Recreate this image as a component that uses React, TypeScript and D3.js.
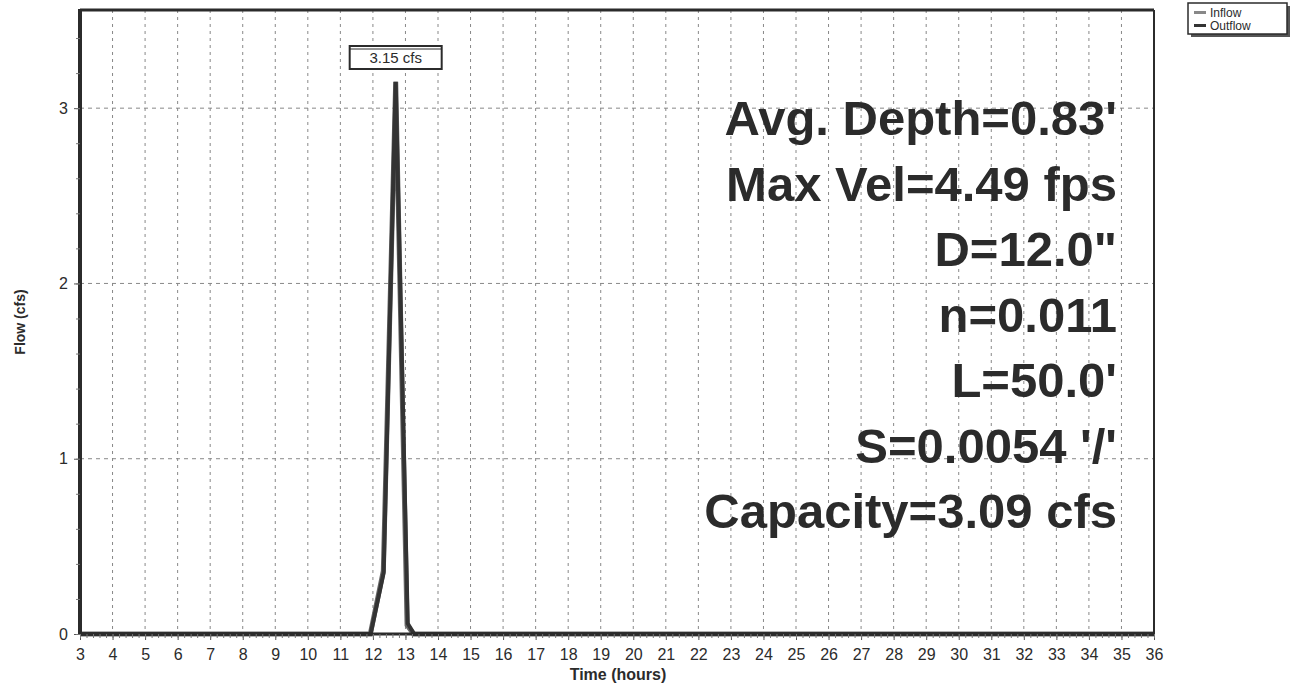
import React, { useEffect, useRef } from 'react';
import * as d3 from 'd3';

// hydrograph, time in hours, flow in cfs
const inflowTimes = [3, 11.92, 12.32, 12.7, 13.05, 13.25, 36];
const inflowValues = [0, 0, 0.36, 3.15, 0.05, 0, 0];
const outflowTimes = [3, 11.93, 12.33, 12.7, 13.07, 13.27, 36];
const outflowValues = [0, 0, 0.35, 3.15, 0.06, 0, 0];

const xTicks = d3.range(3, 37);
const yTicks = [0, 1, 2, 3];
const peakLabel = '3.15 cfs';
const infoLines = [
    "Avg. Depth=0.83'",
    'Max Vel=4.49 fps',
    'D=12.0"',
    'n=0.011',
    "L=50.0'",
    "S=0.0054 '/'",
    'Capacity=3.09 cfs'
];
const legendItems = ['Inflow', 'Outflow'];

const App = () => {
    const svgRef = useRef(null);

    useEffect(() => {
        document.body.style.margin = '0';
        const svg = d3.select(svgRef.current);
        svg.selectAll('*').remove();

        const margin = { top: 10, right: 137, bottom: 50, left: 80 };
        const W = 1291, H = 684;
        const width = W - margin.left - margin.right;
        const height = H - margin.top - margin.bottom;
        const font = 'Liberation Sans, Arial, sans-serif';
        const dark = '#2b2b2b';

        svg.attr('width', W).attr('height', H).style('font-family', font);
        svg.append('rect').attr('width', W).attr('height', H).attr('fill', '#fff');

        const g = svg.append('g').attr('transform', `translate(${margin.left},${margin.top})`);

        const x = d3.scaleLinear().domain([3, 36]).range([0, width]);
        const y = d3.scaleLinear().domain([0, 3.56]).range([height, 0]);

        //grid
        g.selectAll('.vgrid')
            .data(xTicks.slice(1, -1))
            .enter().append('line')
            .attr('x1', d => x(d)).attr('x2', d => x(d))
            .attr('y1', 0).attr('y2', height)
            .attr('stroke', '#888').attr('stroke-width', 1)
            .attr('stroke-dasharray', '3,4');

        g.selectAll('.hgrid')
            .data(yTicks.slice(1))
            .enter().append('line')
            .attr('x1', 0).attr('x2', width)
            .attr('y1', d => y(d)).attr('y2', d => y(d))
            .attr('stroke', '#888').attr('stroke-width', 1)
            .attr('stroke-dasharray', '4,4');

        //info text
        const info = g.append('text')
            .attr('text-anchor', 'end')
            .attr('font-size', 49)
            .attr('font-weight', 'bold')
            .attr('fill', dark);
        infoLines.forEach((t, i) => {
            info.append('tspan').attr('x', 1117 - margin.left).attr('y', 125 + i * 65.5).text(t);
        });

        //lines
        const makePath = (times, values) =>
            d3.line<number>().x((d, i) => x(times[i])).y(d => y(d))(values);

        g.append('path')
            .attr('d', makePath(inflowTimes, inflowValues))
            .attr('fill', 'none')
            .attr('stroke', '#666')
            .attr('stroke-width', 5)
            .attr('stroke-linejoin', 'miter')
            .attr('stroke-miterlimit', 40);

        g.append('path')
            .attr('d', makePath(outflowTimes, outflowValues))
            .attr('fill', 'none')
            .attr('stroke', '#333')
            .attr('stroke-width', 4)
            .attr('stroke-linejoin', 'miter')
            .attr('stroke-miterlimit', 40);

        //frame
        g.append('line').attr('x1', 0).attr('x2', width).attr('y1', 0).attr('y2', 0)
            .attr('stroke', dark).attr('stroke-width', 3);
        g.append('line').attr('x1', width).attr('x2', width).attr('y1', 0).attr('y2', height)
            .attr('stroke', dark).attr('stroke-width', 2);
        g.append('line').attr('x1', 0).attr('x2', 0).attr('y1', -1).attr('y2', height)
            .attr('stroke', dark).attr('stroke-width', 4);
        g.append('line').attr('x1', 0).attr('x2', width).attr('y1', height).attr('y2', height)
            .attr('stroke', dark).attr('stroke-width', 3);

        //x axis
        const xAxis = d3.axisBottom(x).tickValues(xTicks).tickSize(6).tickPadding(9);
        const xa = g.append('g').attr('transform', `translate(0,${height})`).call(xAxis);
        xa.select('.domain').remove();
        xa.selectAll('line').attr('stroke', '#555');
        xa.selectAll('text').attr('font-size', 16).attr('fill', dark).attr('font-family', font);

        const xMinor = d3.axisBottom(x).tickValues(d3.range(3, 36.01, 0.2)).tickSize(4).tickFormat(() => '');
        const xm = g.append('g').attr('transform', `translate(0,${height})`).call(xMinor);
        xm.select('.domain').remove();
        xm.selectAll('line').attr('stroke', '#777');

        //y axis
        const yAxis = d3.axisLeft(y).tickValues(yTicks).tickSize(6).tickPadding(6).tickFormat(d3.format('d'));
        const ya = g.append('g').call(yAxis);
        ya.select('.domain').remove();
        ya.selectAll('line').attr('stroke', '#555');
        ya.selectAll('text').attr('font-size', 16).attr('fill', dark).attr('font-family', font);

        const yMinor = d3.axisLeft(y).tickValues(d3.range(0, 3.5, 0.2)).tickSize(4).tickFormat(() => '');
        const ym = g.append('g').call(yMinor);
        ym.select('.domain').remove();
        ym.selectAll('line').attr('stroke', '#777');

        //peak label
        const peakX = x(inflowTimes[3]);
        const lb = g.append('g');
        lb.append('rect')
            .attr('x', peakX - 46).attr('y', 36)
            .attr('width', 92).attr('height', 23)
            .attr('fill', '#fff').attr('stroke', dark).attr('stroke-width', 2);
        lb.append('line')
            .attr('x1', peakX - 46).attr('x2', peakX + 46).attr('y1', 39).attr('y2', 39)
            .attr('stroke', dark).attr('stroke-width', 1);
        lb.append('text')
            .attr('x', peakX).attr('y', 53)
            .attr('text-anchor', 'middle')
            .attr('font-size', 15)
            .attr('fill', dark)
            .text(peakLabel);

        //axis titles
        svg.append('text')
            .attr('transform', 'translate(25,322) rotate(-90)')
            .attr('text-anchor', 'middle')
            .attr('font-size', 14)
            .attr('font-weight', 'bold')
            .attr('fill', dark)
            .text('Flow  (cfs)');

        svg.append('text')
            .attr('x', 618).attr('y', 680)
            .attr('text-anchor', 'middle')
            .attr('font-size', 16)
            .attr('font-weight', 'bold')
            .attr('fill', dark)
            .text('Time  (hours)');

        //legend
        const lg = svg.append('g').attr('transform', 'translate(1188,3)');
        lg.append('rect').attr('x', 3).attr('y', 3).attr('width', 99).attr('height', 31).attr('fill', '#555');
        lg.append('rect').attr('width', 99).attr('height', 31).attr('fill', '#fff')
            .attr('stroke', dark).attr('stroke-width', 1.5);
        legendItems.forEach((name, i) => {
            lg.append('line')
                .attr('x1', 6).attr('x2', 18)
                .attr('y1', 9.5 + i * 13).attr('y2', 9.5 + i * 13)
                .attr('stroke', i === 0 ? '#888' : '#333')
                .attr('stroke-width', 3);
            lg.append('text')
                .attr('x', 22).attr('y', 13.5 + i * 13)
                .attr('font-size', 12)
                .attr('fill', dark)
                .text(name);
        });
    }, []);

    return <svg ref={svgRef}></svg>;
};

export default App;
